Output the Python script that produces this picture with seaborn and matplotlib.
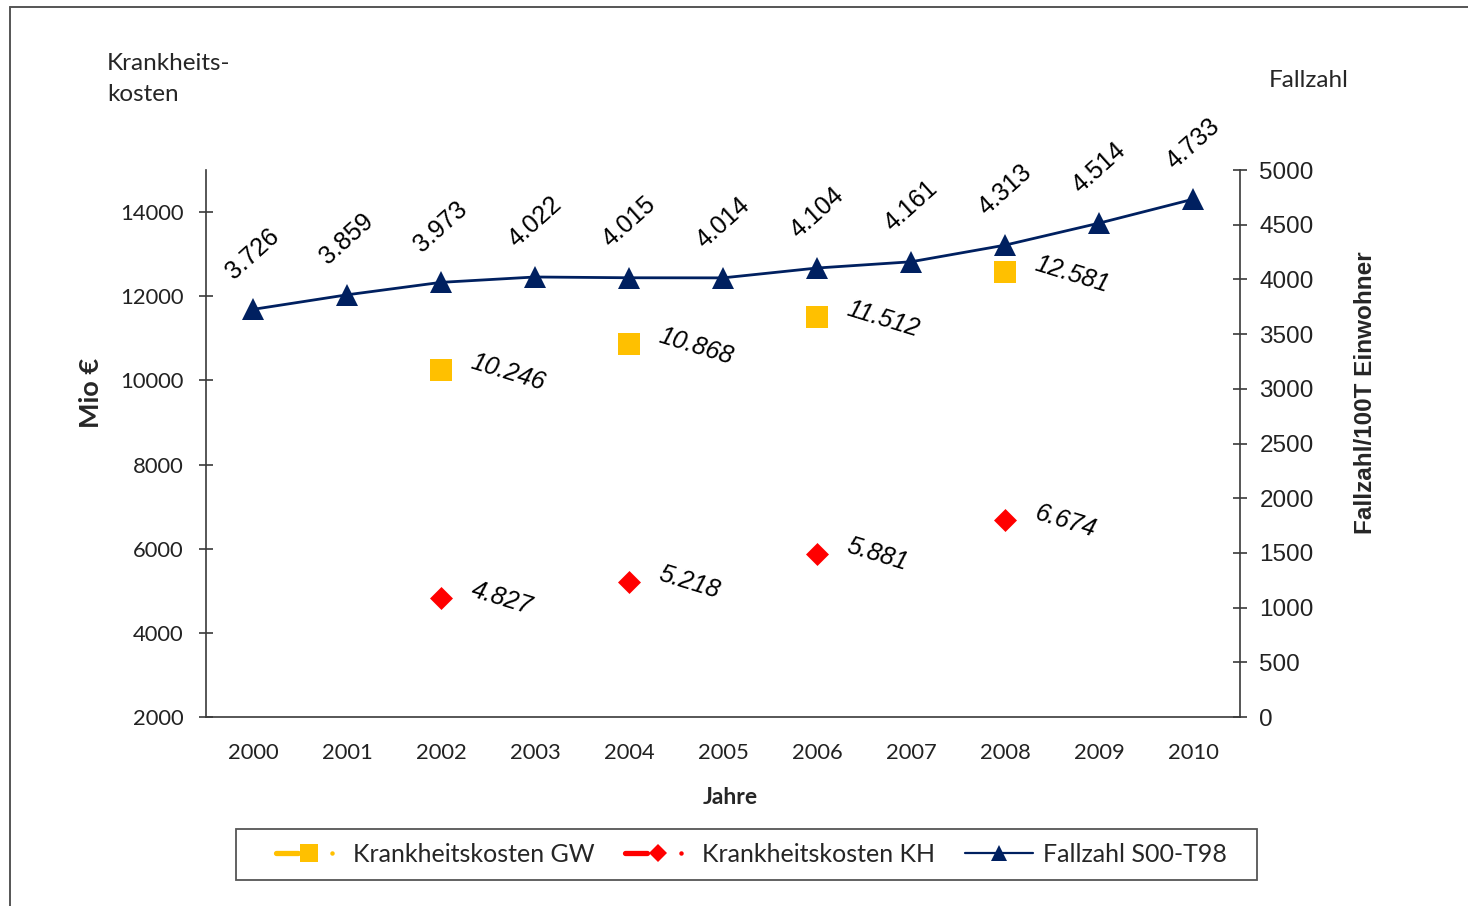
import matplotlib
matplotlib.use("Agg")
import matplotlib.pyplot as plt
from matplotlib.lines import Line2D
from matplotlib.patches import Rectangle
from matplotlib.legend_handler import HandlerTuple
import numpy as np
import pandas as pd
import seaborn as sns

# ---- data -------------------------------------------------------------
years = [2000, 2001, 2002, 2003, 2004, 2005, 2006, 2007, 2008, 2009, 2010]
fallzahl = [3726, 3859, 3973, 4022, 4015, 4014, 4104, 4161, 4313, 4514, 4733]

cost_years = [2002, 2004, 2006, 2008]
kosten_gw = [10246, 10868, 11512, 12581]
kosten_kh = [4827, 5218, 5881, 6674]

left_ticks = [2000, 4000, 6000, 8000, 10000, 12000, 14000]
right_ticks = [0, 500, 1000, 1500, 2000, 2500, 3000, 3500, 4000, 4500, 5000]

series_names = ["Krankheitskosten GW", "Krankheitskosten KH", "Fallzahl S00-T98"]

# ---- style ------------------------------------------------------------
sns.set_style("white")
plt.rcParams["font.family"] = ["Lato", "DejaVu Sans"]

GW_COL = "#FFC000"
KH_COL = "#FF0000"
NAVY = "#002060"
AX_COL = "#3a3a3a"
ARIAL = "Liberation Sans"

W, H = 1468, 906


def fx(px):
    return px / W


def fy(py):
    return 1 - py / H


def de(v):
    return f"{v:,}".replace(",", ".")


fig = plt.figure(figsize=(W / 100, H / 100), dpi=100)
fig.patch.set_facecolor("white")

ax = fig.add_axes([fx(206), fy(717), fx(1240) - fx(206), fy(170) - fy(717)])
ax2 = ax.twinx()

costs = pd.DataFrame({"Jahr": cost_years, "GW": kosten_gw, "KH": kosten_kh})
cases = pd.DataFrame({"Jahr": years, "Fallzahl": fallzahl})

sns.scatterplot(data=costs, x="Jahr", y="GW", marker="s", s=16.5 ** 2,
                color=GW_COL, linewidth=0, ax=ax, zorder=3)
sns.scatterplot(data=costs, x="Jahr", y="KH", marker="D", s=11.7 ** 2,
                color=KH_COL, linewidth=0, ax=ax, zorder=3)
sns.lineplot(data=cases, x="Jahr", y="Fallzahl", ax=ax2, color=NAVY, lw=2,
             marker="^", markersize=16, markeredgewidth=0, zorder=4)

# value labels
for x, v in zip(cost_years, kosten_gw):
    ax.annotate(de(v), (x, v), xytext=(22, 6), textcoords="offset points",
                ha="left", va="center", rotation=-17, rotation_mode="anchor",
                fontsize=18, fontstyle="italic", family=ARIAL, color="black")
for x, v in zip(cost_years, kosten_kh):
    ax.annotate(de(v), (x, v), xytext=(22, 6), textcoords="offset points",
                ha="left", va="center", rotation=-17, rotation_mode="anchor",
                fontsize=18, fontstyle="italic", family=ARIAL, color="black")
for x, v in zip(years, fallzahl):
    ax2.annotate(de(v), (x, v), xytext=(0, 40), textcoords="offset points",
                 ha="center", va="center", rotation=42,
                 fontsize=18, family=ARIAL, color="black")

# ---- axes -------------------------------------------------------------
ax.set_xlim(1999.5, 2010.5)
ax.set_ylim(2000, 15000)
ax2.set_ylim(0, 5000)

ax.set_xticks(np.arange(1999.5, 2011, 1.0))
ax.set_xticklabels([])
ax.set_xticks(years, minor=True)
ax.set_xticklabels([str(y) for y in years], minor=True, fontsize=15.8)
ax.tick_params(axis="x", which="major", direction="inout", length=12,
               width=1.2, color=AX_COL)
ax.tick_params(axis="x", which="minor", length=0, pad=18.5, labelcolor="#222222")

ax.set_yticks(left_ticks)
ax.set_yticklabels([str(t) for t in left_ticks], fontsize=15.8)
ax.tick_params(axis="y", direction="inout", length=10, width=1.2,
               color=AX_COL, pad=11, labelcolor="#222222", left=True)

ax2.set_yticks(right_ticks)
ax2.set_yticklabels([str(t) for t in right_ticks], family=ARIAL, fontsize=17.5)
ax2.tick_params(axis="y", direction="inout", length=10, width=1.2,
                color=AX_COL, pad=9, labelcolor="#222222", right=True)

for a in (ax, ax2):
    a.set_xlabel("")
    a.set_ylabel("")
    a.grid(False)
    a.spines["top"].set_visible(False)
    for s in a.spines.values():
        s.set_color(AX_COL)
        s.set_linewidth(1.2)
ax.spines["right"].set_visible(False)
ax2.spines["left"].set_visible(False)
ax2.spines["bottom"].set_visible(False)
ax.patch.set_alpha(0)

# ---- titles -----------------------------------------------------------
fig.text(fx(107), fy(70), "Krankheits-", fontsize=17.5, va="baseline", ha="left")
fig.text(fx(107), fy(101), "kosten", fontsize=17.5, va="baseline", ha="left")
fig.text(fx(1269), fy(87), "Fallzahl", fontsize=17.5, va="baseline", ha="left")
fig.text(fx(730), fy(797), "Jahre", fontsize=16.5, fontweight="bold",
         ha="center", va="center")
fig.text(fx(91), fy(393), "Mio €", fontsize=19.5, fontweight="bold",
         ha="center", va="center", rotation=90)
fig.text(fx(1366), fy(393), "Fallzahl/100T Einwohner", fontsize=17.5,
         fontweight="bold", family=ARIAL, ha="center", va="center", rotation=90)

# ---- legend -----------------------------------------------------------
gw_handle = (Line2D([], [], color=GW_COL, lw=3.8),
             Line2D([], [], color=GW_COL, marker="s", ms=13, ls="none", mew=0),
             Line2D([], [], color=GW_COL, marker="o", ms=3.2, ls="none", mew=0))
kh_handle = (Line2D([], [], color=KH_COL, lw=3.8),
             Line2D([], [], color=KH_COL, marker="D", ms=9.5, ls="none", mew=0),
             Line2D([], [], color=KH_COL, marker="o", ms=3.2, ls="none", mew=0))
fz_handle = Line2D([], [], color=NAVY, lw=1.6, marker="^", ms=11, mew=0)

fig.add_artist(Rectangle((fx(236), fy(880)), fx(1257) - fx(236), fy(829) - fy(880),
                         transform=fig.transFigure, fill=False,
                         ec="#555555", lw=1.3))
fig.legend(handles=[gw_handle, kh_handle, fz_handle], labels=series_names,
           handler_map={tuple: HandlerTuple(ndivide=None, pad=0)},
           loc="center", bbox_to_anchor=(fx(751), fy(854.5)), ncol=3,
           frameon=False, fontsize=18, handlelength=2.7, handletextpad=0.4,
           columnspacing=1.2, borderpad=0)

# figure frame lines (top and left)
fig.add_artist(Line2D([fx(10), 1.0], [fy(7), fy(7)], transform=fig.transFigure,
                      color="#555555", lw=1.4))
fig.add_artist(Line2D([fx(10), fx(10)], [fy(7), 0.0], transform=fig.transFigure,
                      color="#555555", lw=1.4))

fig.savefig("out.png", dpi=100)
